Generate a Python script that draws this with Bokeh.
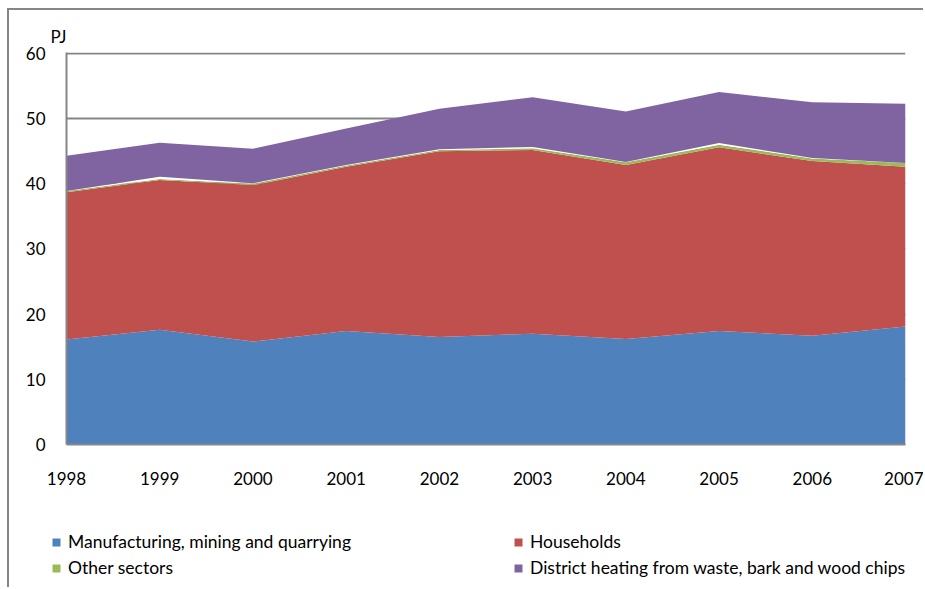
from bokeh.plotting import figure
from bokeh.layouts import column
from bokeh.models import ColumnDataSource, Legend, LegendItem, FixedTicker, Range1d
from bokeh.embed import file_html
from bokeh.resources import INLINE

years = [1998, 1999, 2000, 2001, 2002, 2003, 2004, 2005, 2006, 2007]
manufacturing = [16.1, 17.6, 15.8, 17.4, 16.5, 17.0, 16.2, 17.4, 16.7, 18.1]
households = [22.6, 23.0, 24.0, 25.2, 28.5, 28.2, 26.7, 28.2, 26.8, 24.5]
other_sectors = [0.2, 0.15, 0.2, 0.2, 0.2, 0.25, 0.4, 0.4, 0.4, 0.6]
unlabelled_gap = [0.0, 0.35, 0.1, 0.1, 0.1, 0.2, 0.05, 0.25, 0.05, 0.0]
district_heating = [5.4, 5.2, 5.3, 5.6, 6.2, 7.65, 7.75, 7.85, 8.55, 9.1]

names = ["Manufacturing, mining and quarrying", "Households", "Other sectors", "District heating from waste, bark and wood chips"]
colors = ["#4F81BD", "#C0504D", "#9BBB59", "#8064A2"]
y_ticks = [0, 10, 20, 30, 40, 50, 60]

src = ColumnDataSource(dict(year=years, man=manufacturing, hh=households, oth=other_sectors,
                            gap=unlabelled_gap, dh=district_heating))

FONT = "Lato"
GRAY = "#868686"

# ---- main chart ----
p = figure(width=916, height=480, output_backend="svg", toolbar_location=None,
           x_range=Range1d(1998, 2007), y_range=Range1d(0, 60.15),
           min_border_left=57, min_border_right=20, min_border_top=42, min_border_bottom=46)
p.frame_align = False
p.styles = {"border-top": "2px solid #868686", "border-left": "2px solid #868686",
            "margin-left": "7px", "margin-top": "8px"}
p.outline_line_color = None
p.background_fill_color = "white"
p.border_fill_color = "white"

rs = p.varea_stack(stackers=["man", "hh", "oth", "gap", "dh"], x="year", source=src,
                   color=[colors[0], colors[1], colors[2], "white", colors[3]])

p.xgrid.grid_line_color = None
p.ygrid.grid_line_color = GRAY
p.ygrid.grid_line_width = 2
p.ygrid.ticker = FixedTicker(ticks=y_ticks)
p.ygrid.level = "underlay"

p.yaxis.ticker = FixedTicker(ticks=y_ticks)
p.xaxis.ticker = FixedTicker(ticks=years)
for ax in (p.xaxis, p.yaxis):
    ax.axis_line_color = GRAY
    ax.axis_line_width = 2
    ax.major_tick_line_color = None
    ax.minor_tick_line_color = None
    ax.major_label_text_font = FONT
    ax.major_label_text_font_size = "17px"
    ax.major_label_text_color = "black"
p.xaxis.major_label_standoff = 21
p.yaxis.major_label_standoff = 15

p.title.text = "PJ"
p.title.align = "left"
p.title.offset = -16
p.title.standoff = 12
p.title.text_font = FONT
p.title.text_font_size = "17px"
p.title.text_font_style = "normal"
p.title.text_color = "black"

# ---- legend strip ----
q = figure(width=916, height=99, output_backend="svg", toolbar_location=None,
           x_range=Range1d(0, 1), y_range=Range1d(1000, 1001),
           x_axis_location=None, y_axis_location=None,
           min_border_left=0, min_border_right=0, min_border_top=0, min_border_bottom=0)
q.frame_align = False
q.styles = {"border-left": "2px solid #868686", "margin-left": "7px"}
q.outline_line_color = None
q.grid.grid_line_color = None
q.title.visible = False
q.border_fill_color = "white"
q.background_fill_color = "white"

lr = q.varea_stack(stackers=["man", "hh", "oth", "dh"], x="year", source=src, color=colors)

def make_legend(idx, loc):
    items = [LegendItem(label=names[i], renderers=[lr[i]]) for i in idx]
    lg = Legend(items=items, location=loc, orientation="vertical", padding=0, margin=0,
                spacing=5, label_height=20, glyph_width=10, glyph_height=10, label_standoff=7,
                label_text_font=FONT, label_text_font_size="17.5px", label_text_color="black",
                border_line_color=None, background_fill_alpha=0)
    q.add_layout(lg)

make_legend([0, 2], (42, 9))
make_legend([1, 3], (504, 9))

open("out.html", "w").write(file_html(column(p, q, spacing=0), INLINE))
